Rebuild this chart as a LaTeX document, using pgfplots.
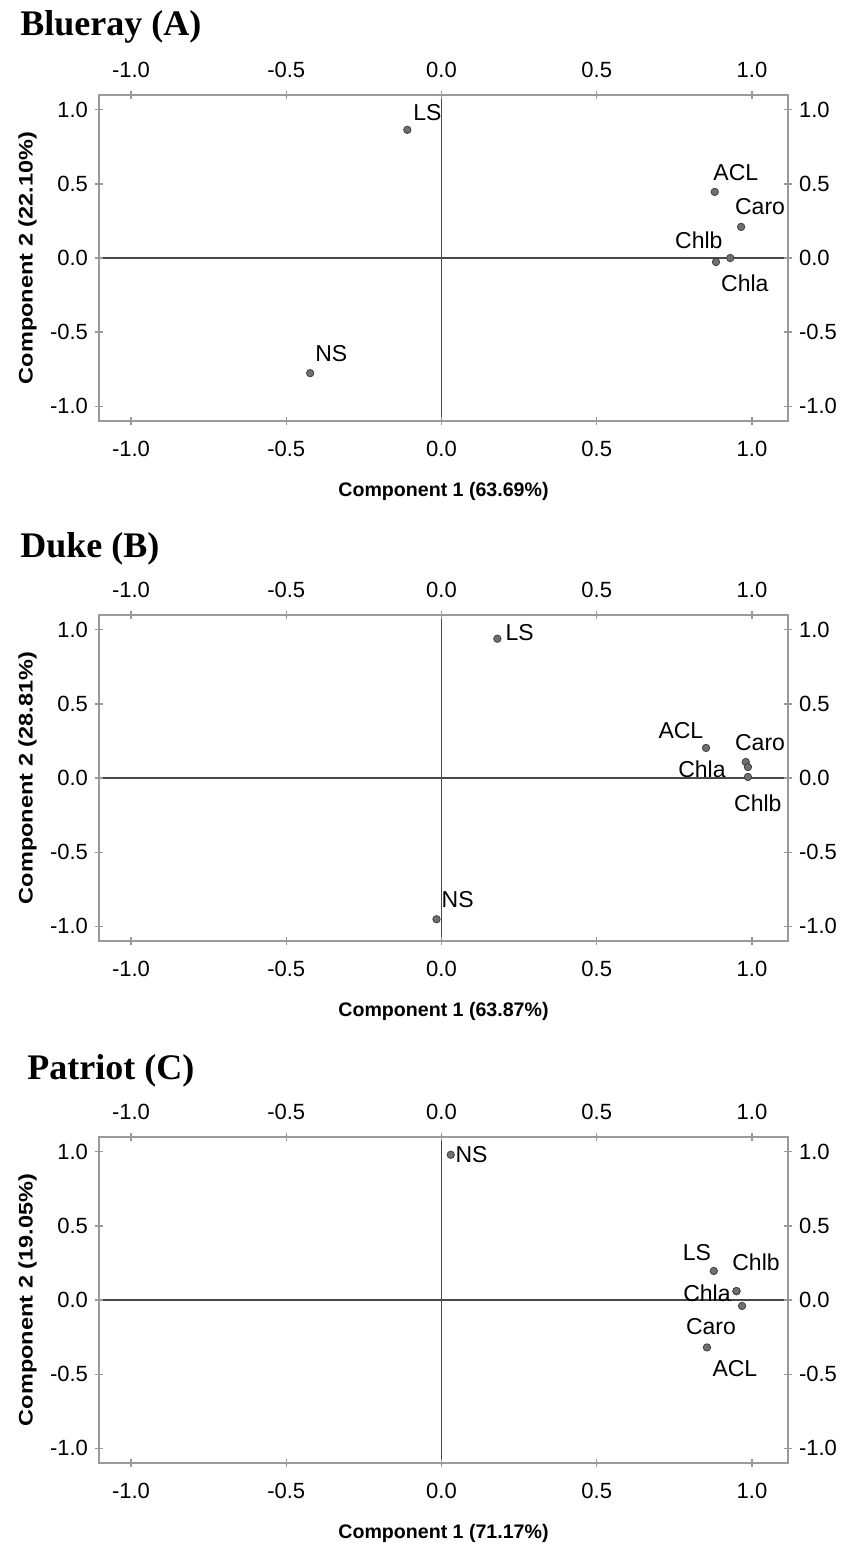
\documentclass[border=0pt]{standalone}
\usepackage{fontspec}
\setmainfont{Liberation Sans}
\newfontfamily\timesfont{Liberation Serif}
\usepackage{graphicx}
\usepackage{pgfplots}
\pgfplotsset{compat=1.18}
\definecolor{boxgray}{HTML}{9A9A9A}
\definecolor{linegray}{HTML}{484848}
\definecolor{dotfill}{HTML}{707070}
\definecolor{dotdraw}{HTML}{404040}
\pgfplotsset{
 pca/.style={scale only axis, width=344.5pt, height=163pt,
  xmin=-1.103, xmax=1.116, ymin=-1.1, ymax=1.1,
  xtick={-1,-0.5,0,0.5,1}, ytick={-1,-0.5,0,0.5,1},
  tick align=center, major tick length=4pt,
  axis line style={boxgray, line width=0.8pt},
  every tick/.style={boxgray, line width=0.6pt},
  clip=false,
  /pgf/number format/assume math mode=true,
  /pgf/number format/fixed,
  /pgf/number format/fixed zerofill,
  /pgf/number format/precision=1,
  ticklabel style={font=\fontsize{11}{13}\selectfont, text=black},
  xticklabel style={yshift=-4.5pt},
  label style={font=\bfseries\fontsize{9.8}{11}\selectfont, inner sep=0pt},
  xlabel style={at={(axis description cs:0.5,0)}, anchor=north, yshift=-30.5pt},
  ylabel style={at={(axis description cs:0,0.5)}, anchor=north, yshift=40.5pt},
 },
 pcatop/.style={pca, xticklabel pos=upper, yticklabel pos=upper,
  xticklabel style={yshift=7.5pt}},
 zero/.style={linegray, line width=0.6pt, no marks, forget plot},
 dots/.style={only marks, mark=*, mark size=1.85pt, mark options={fill=dotfill, draw=dotdraw, line width=0.4pt}},
}
\tikzset{
 lab/.style={font=\fontsize{11.5}{13}\selectfont, inner sep=0pt},
 ttl/.style={anchor=west, font=\timesfont\bfseries\fontsize{18}{21}\selectfont, inner sep=0pt}
}
\newcommand{\ylab}[1]{\scalebox{1.2}[1]{#1}}
\begin{document}
\begin{tikzpicture}
\path[use as bounding box] (-49.5pt,47.5pt) rectangle (372pt,-724.5pt);
% ---------- Panel A ----------
\begin{axis}[pca, at={(0,0)}, anchor=north west,
  xlabel={Component 1 (63.69\%)}, ylabel={\ylab{Component 2 (22.10\%)}}]
\addplot[zero] coordinates {(-1.103,0) (1.116,0)};
\addplot[zero] coordinates {(0,-1.1) (0,1.1)};
\addplot[dots] coordinates {(-0.11,0.865) (0.88,0.446) (0.965,0.21) (0.93,0.0) (0.884,-0.027) (-0.423,-0.777)};
\node[lab] at (axis cs:-0.045,0.98) {LS};
\node[lab] at (axis cs:0.948,0.574) {ACL};
\node[lab] at (axis cs:1.026,0.345) {Caro};
\node[lab] at (axis cs:0.829,0.122) {Chlb};
\node[lab] at (axis cs:0.977,-0.17) {Chla};
\node[lab] at (axis cs:-0.355,-0.642) {NS};
\node[ttl, xshift=-39.5pt, yshift=34pt] at (rel axis cs:0,1) {Blueray (A)};
\end{axis}
\begin{axis}[pcatop, at={(0,0)}, anchor=north west]
\addplot[draw=none] coordinates {(0,0)};
\end{axis}
% ---------- Panel B ----------
\begin{axis}[pca, at={(0,-260pt)}, anchor=north west,
  xlabel={Component 1 (63.87\%)}, ylabel={\ylab{Component 2 (28.81\%)}}]
\addplot[zero] coordinates {(-1.103,0) (1.116,0)};
\addplot[zero] coordinates {(0,-1.1) (0,1.1)};
\addplot[dots] coordinates {(0.18,0.94) (0.852,0.203) (0.98,0.108) (0.987,0.074) (0.987,0.007) (-0.016,-0.953)};
\node[lab] at (axis cs:0.252,0.98) {LS};
\node[lab] at (axis cs:0.771,0.318) {ACL};
\node[lab] at (axis cs:1.026,0.236) {Caro};
\node[lab] at (axis cs:0.839,0.06) {Chla};
\node[lab] at (axis cs:1.019,-0.169) {Chlb};
\node[lab] at (axis cs:0.052,-0.818) {NS};
\node[ttl, xshift=-39.5pt, yshift=33pt] at (rel axis cs:0,1) {Duke (B)};
\end{axis}
\begin{axis}[pcatop, at={(0,-260pt)}, anchor=north west]
\addplot[draw=none] coordinates {(0,0)};
\end{axis}
% ---------- Panel C ----------
\begin{axis}[pca, at={(0,-521pt)}, anchor=north west,
  xlabel={Component 1 (71.17\%)}, ylabel={\ylab{Component 2 (19.05\%)}}]
\addplot[zero] coordinates {(-1.103,0) (1.116,0)};
\addplot[zero] coordinates {(0,-1.1) (0,1.1)};
\addplot[dots] coordinates {(0.03,0.98) (0.877,0.196) (0.95,0.06) (0.95,0.06) (0.968,-0.04) (0.855,-0.32)};
\node[lab] at (axis cs:0.097,0.98) {NS};
\node[lab] at (axis cs:0.823,0.318) {LS};
\node[lab] at (axis cs:1.013,0.257) {Chlb};
\node[lab] at (axis cs:0.855,0.047) {Chla};
\node[lab] at (axis cs:0.868,-0.182) {Caro};
\node[lab] at (axis cs:0.945,-0.46) {ACL};
\node[ttl, xshift=-36pt, yshift=33pt] at (rel axis cs:0,1) {Patriot (C)};
\end{axis}
\begin{axis}[pcatop, at={(0,-521pt)}, anchor=north west]
\addplot[draw=none] coordinates {(0,0)};
\end{axis}
\end{tikzpicture}
\end{document}
